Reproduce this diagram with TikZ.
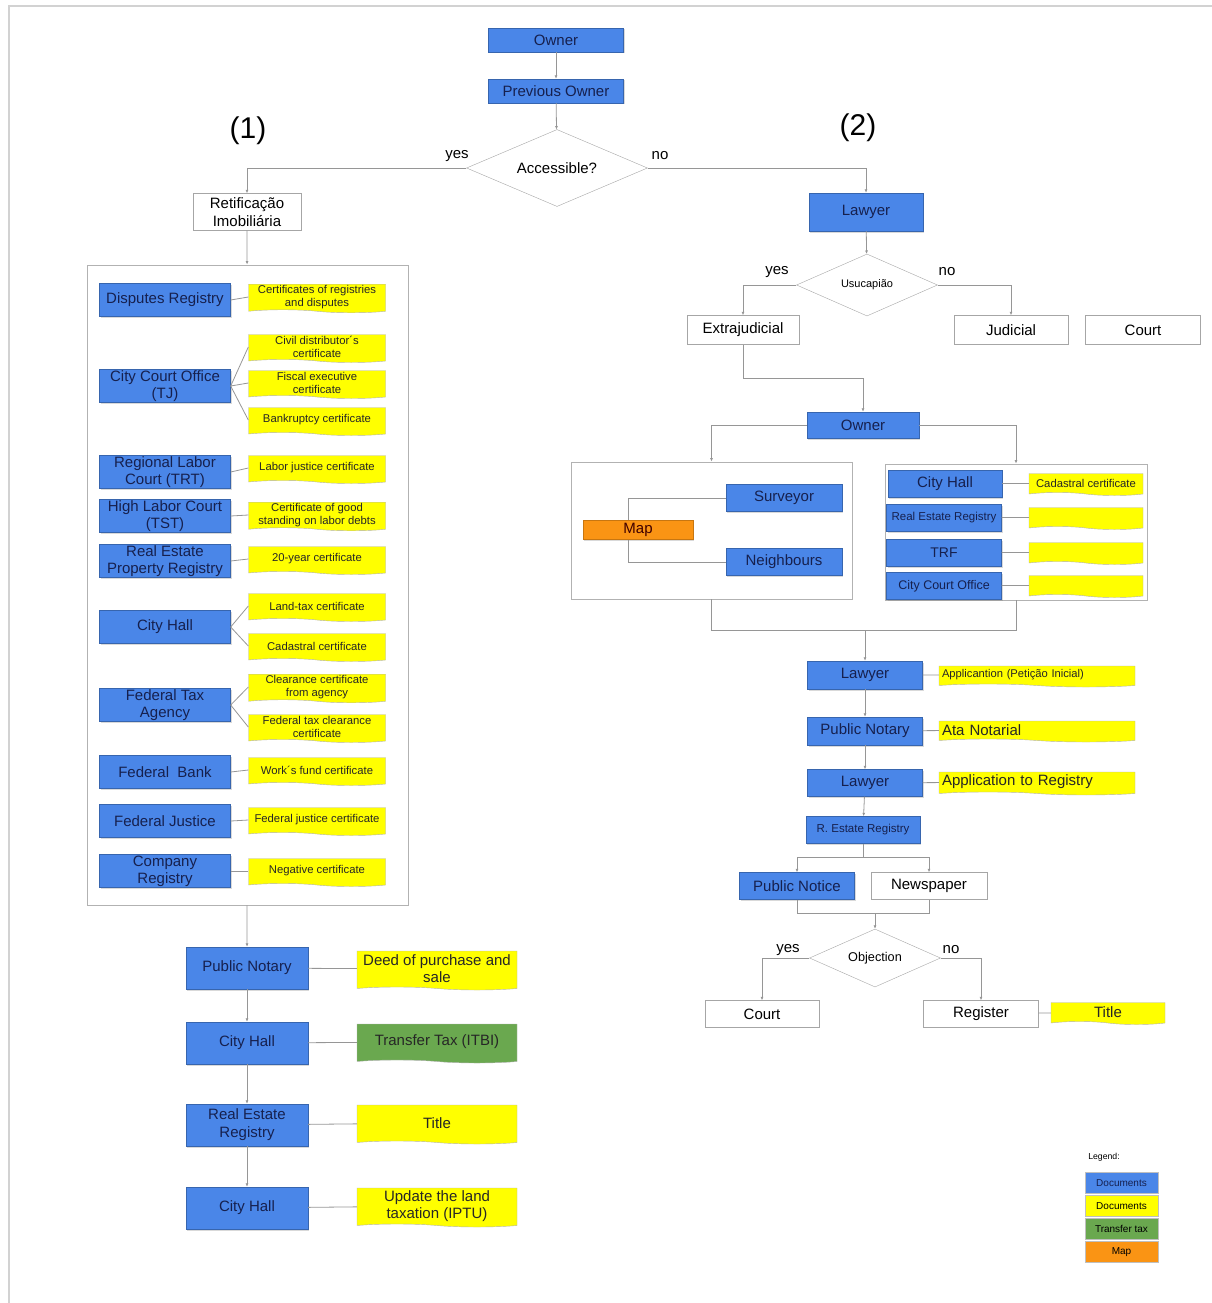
\documentclass[tikz,border=0pt]{standalone}
\usepackage{fontspec}
\setmainfont{Liberation Sans}
\usetikzlibrary{shapes.geometric,shapes.symbols,arrows.meta,shadows}
\definecolor{docblue}{RGB}{74,134,232}
\definecolor{noteyellow}{RGB}{255,255,0}
\definecolor{taxgreen}{RGB}{106,168,79}
\definecolor{maporange}{RGB}{250,148,20}
\definecolor{linegray}{RGB}{150,150,150}
\definecolor{doctext}{RGB}{22,32,78}
\newcommand{\fsz}[2]{\fontsize{#1}{#2}\selectfont}
\begin{document}
\begin{tikzpicture}
	[
	x=1pt, y=-1pt, font=\fsz{15}{17}, >={Latex[length=3.5pt,width=3pt]},
	%Stile
	doc/.style={draw=docblue!75!black, fill=docblue, text=doctext, inner sep=1pt, align=center,
		drop shadow={shadow xshift=1pt, shadow yshift=-1.5pt, opacity=0.3}},
	note/.style={tape, tape bend top=none, tape bend bottom=out and in, tape bend height=3pt,
		draw=gray!60, fill=noteyellow, text=black!85, inner sep=1pt, align=center},
	whitebox/.style={draw=gray!70, fill=white, inner sep=1pt, align=center},
	decision/.style={diamond, aspect=2.3, draw=gray!70, fill=white, inner sep=0pt, align=center},
	groupbox/.style={draw=gray!60, line width=0.8pt},
	line/.style={draw=linegray, line width=0.8pt},
	leftdoc/.style={doc, minimum width=131pt, minimum height=33pt, font=\fsz{15}{17}},
	leftnote/.style={note, minimum width=137pt, minimum height=28pt, font=\fsz{11.3}{13}},
	lowdoc/.style={doc, minimum width=122pt, minimum height=42pt, font=\fsz{15}{18}},
	lownote/.style={note, minimum width=160pt, minimum height=39pt, font=\fsz{15}{17}},
	rightdoc/.style={doc, minimum width=115pt, minimum height=27pt},
	rightnote/.style={note, minimum width=114pt, minimum height=22pt, font=\fsz{11.3}{13}},
	longnote/.style={note, text width=190pt, minimum height=21pt, align=left, inner sep=3pt},
	legendbox/.style={draw=gray!50, minimum width=73pt, minimum height=21pt, inner sep=0pt, font=\fsz{10}{11}}
	]
	\useasboundingbox (0,0) rectangle (1212,1303);
	%Rahmen
	\draw[gray!35, line width=2pt] (9,1303) -- (9,6) -- (1212,6);
	
	%Start
	\node[doc, minimum width=135pt, minimum height=24pt] (owner) at (556,40) {Owner};
	\node[doc, minimum width=135pt, minimum height=24pt] (prevowner) at (556,91) {Previous Owner};
	\node[decision, minimum width=181pt, minimum height=77pt] (access) at (557,168) {Accessible?};
	\node (yes1) at (457,156) {yes};
	\node (no1) at (660,156) {no};
	\node[font=\fsz{30}{34}] (lab1) at (248,131) {(1)};
	\node[font=\fsz{30}{34}] (lab2) at (858,128) {(2)};
	\draw[line,->] (owner) -- (prevowner);
	\draw[line,->] (prevowner) -- (access);
	
	%(1) Retificacao
	\node[whitebox, minimum width=108pt, minimum height=37pt, font=\fsz{15}{18}] (retif) at (247,212) {Retificação\\Imobiliária};
	\node[groupbox, minimum width=321pt, minimum height=640pt] (certs) at (247.5,585) {};
	\draw[line,->] (access.west) -| (retif.north);
	\draw[line,->] (retif) -- (certs);
	
	%Urkunden
	\node[leftdoc] (disputes) at (165,300) {Disputes Registry};
	\node[leftnote] (ndisputes) at (317,297) {Certificates of registries\\and disputes};
	\node[leftdoc] (cityct) at (165,386) {City Court Office\\(TJ)};
	\node[leftnote] (ncivil) at (317,347) {Civil distributor´s\\certificate};
	\node[leftnote] (nfiscal) at (317,383) {Fiscal executive\\certificate};
	\node[leftnote] (nbankr) at (317,420) {Bankruptcy certificate};
	\node[leftdoc] (trt) at (165,472) {Regional Labor\\Court (TRT)};
	\node[leftnote] (ntrt) at (317,468) {Labor justice certificate};
	\node[leftdoc] (tst) at (165,516) {High Labor Court\\(TST)};
	\node[leftnote] (ntst) at (317,515) {Certificate of good\\standing on labor debts};
	\node[leftdoc] (repr) at (165,561) {Real Estate\\Property Registry};
	\node[leftnote] (nrepr) at (317,559) {20-year certificate};
	\node[leftdoc] (cityhall1) at (165,627) {City Hall};
	\node[leftnote] (nland) at (317,606) {Land-tax certificate};
	\node[leftnote] (ncad1) at (317,646) {Cadastral certificate};
	\node[leftdoc] (fedtax) at (165,705) {Federal Tax\\Agency};
	\node[leftnote] (nclear) at (317,687) {Clearance certificate\\from agency};
	\node[leftnote] (nfedtax) at (317,727) {Federal tax clearance\\certificate};
	\node[leftdoc] (fedbank) at (165,772) {Federal~ Bank};
	\node[leftnote] (nfund) at (317,770) {Work´s fund certificate};
	\node[leftdoc] (fedjust) at (165,821) {Federal Justice};
	\node[leftnote] (nfedjust) at (317,820) {Federal justice certificate};
	\node[leftdoc] (company) at (165,871) {Company\\Registry};
	\node[leftnote] (nneg) at (317,871) {Negative certificate};
	\draw[line] (disputes.east) -- (ndisputes.west);
	\draw[line] (cityct.east) -- (ncivil.west);
	\draw[line] (cityct.east) -- (nfiscal.west);
	\draw[line] (cityct.east) -- (nbankr.west);
	\draw[line] (trt.east) -- (ntrt.west);
	\draw[line] (tst.east) -- (ntst.west);
	\draw[line] (repr.east) -- (nrepr.west);
	\draw[line] (cityhall1.east) -- (nland.west);
	\draw[line] (cityhall1.east) -- (ncad1.west);
	\draw[line] (fedtax.east) -- (nclear.west);
	\draw[line] (fedtax.east) -- (nfedtax.west);
	\draw[line] (fedbank.east) -- (nfund.west);
	\draw[line] (fedjust.east) -- (nfedjust.west);
	\draw[line] (company.east) -- (nneg.west);
	
	%Kauf
	\node[lowdoc] (notary1) at (247,968) {Public Notary};
	\node[lownote] (deed) at (437,969) {Deed of purchase and\\sale};
	\node[lowdoc] (cityhall2) at (247,1043) {City Hall};
	\node[lownote, fill=taxgreen] (itbi) at (437,1042) {Transfer Tax (ITBI)};
	\node[lowdoc] (registry1) at (247,1125) {Real Estate\\Registry};
	\node[lownote] (title1) at (437,1123) {Title};
	\node[lowdoc] (cityhall3) at (247,1208) {City Hall};
	\node[lownote] (iptu) at (437,1206) {Update the land\\taxation (IPTU)};
	\draw[line,->] (certs) -- (notary1);
	\draw[line,->] (notary1) -- (cityhall2);
	\draw[line,->] (cityhall2) -- (registry1);
	\draw[line,->] (registry1) -- (cityhall3);
	\draw[line] (notary1) -- (deed);
	\draw[line] (cityhall2) -- (itbi);
	\draw[line] (registry1) -- (title1);
	\draw[line] (cityhall3) -- (iptu);
	
	%(2) Usucapiao
	\node[doc, minimum width=114pt, minimum height=38pt] (lawyer1) at (866,212) {Lawyer};
	\node[decision, minimum width=141pt, minimum height=62pt, font=\fsz{11}{13}] (usucap) at (867,285) {Usucapião};
	\node (yes2) at (777,272) {yes};
	\node (no2) at (947,272) {no};
	\node[whitebox, minimum width=112pt, minimum height=29pt] (extra) at (743,330) {Extrajudicial};
	\node[whitebox, minimum width=114pt, minimum height=29pt] (judicial) at (1011,330) {Judicial};
	\node[whitebox, minimum width=115pt, minimum height=29pt] (court1) at (1143,330) {Court};
	\draw[line,->] (access.east) -| (lawyer1.north);
	\draw[line,->] (lawyer1) -- (usucap);
	\draw[line,->] (usucap.west) -| (extra.north);
	\draw[line,->] (usucap.east) -| (judicial.north);
	
	%Extrajudicial
	\node[doc, minimum width=112pt, minimum height=26pt] (owner2) at (863,425) {Owner};
	\node[groupbox, minimum width=281pt, minimum height=137pt] (mapgroup) at (711.5,530.5) {};
	\node[groupbox, minimum width=262pt, minimum height=136pt] (docgroup) at (1016,532) {};
	\draw[line,->] (extra.south) -- ++(0,34) -| (owner2.north);
	\draw[line,->] (owner2.west) -| (mapgroup.north);
	\draw[line,->] (owner2.east) -| (docgroup.north);
	
	%Karte
	\node[doc, minimum width=110pt, minimum height=19pt, fill=maporange, draw=maporange!80!black, text=black!75!red] (map) at (638,530) {Map};
	\node[rightdoc, minimum width=116pt] (surveyor) at (784,498) {Surveyor};
	\node[rightdoc, minimum width=116pt] (neighbours) at (784,562) {Neighbours};
	\draw[line] ([xshift=-10pt]map.north) |- (surveyor.west);
	\draw[line] ([xshift=-10pt]map.south) |- (neighbours.west);
	
	%Bescheinigungen
	\node[rightdoc, minimum width=114pt] (cityhall4) at (945,484) {City Hall};
	\node[rightnote] (ncad2) at (1086,483) {Cadastral certificate};
	\node[rightdoc, font=\fsz{11.5}{13}] (registry2) at (944,518) {Real Estate Registry};
	\node[rightnote] (nreg2) at (1086,517) {};
	\node[rightdoc, font=\fsz{14}{16}] (trf) at (944,553) {TRF};
	\node[rightnote] (ntrf) at (1086,552) {};
	\node[rightdoc, font=\fsz{12.5}{14}] (cityct2) at (944,586) {City Court Office};
	\node[rightnote] (ncityct2) at (1086,585) {};
	\draw[line] (cityhall4) -- (ncad2);
	\draw[line] (registry2) -- (nreg2);
	\draw[line] (trf) -- (ntrf);
	\draw[line] (cityct2) -- (ncityct2);
	
	%Antrag
	\node[rightdoc, minimum height=28pt] (lawyer2) at (865,675) {Lawyer};
	\node[longnote, font=\fsz{11.2}{13}] (petition) at (1037,675) {Applicantion (Petição Inicial)};
	\node[rightdoc, minimum height=28pt] (notary2) at (865,731) {Public Notary};
	\node[longnote] (ata) at (1037,730) {Ata Notarial};
	\node[rightdoc] (lawyer3) at (865,783) {Lawyer};
	\node[longnote] (appreg) at (1037,782) {Application to Registry};
	\node[rightdoc, minimum width=114pt, font=\fsz{11.5}{13}] (registry3) at (863,830) {R. Estate Registry};
	\draw[line] (mapgroup.south) -- ++(0,31) coordinate (join1) -| (docgroup.south);
	\draw[line,->] (join1 -| lawyer2) -- (lawyer2.north);
	\draw[line,->] (lawyer2) -- (notary2);
	\draw[line,->] (notary2) -- (lawyer3);
	\draw[line,->] (lawyer3) -- (registry3);
	\draw[line] (lawyer2) -- (petition);
	\draw[line] (notary2) -- (ata);
	\draw[line] (lawyer3) -- (appreg);
	
	%Bekanntmachung
	\node[rightdoc] (notice) at (797,886) {Public Notice};
	\node[whitebox, minimum width=116pt, minimum height=27pt] (newspaper) at (929,886) {Newspaper};
	\node[decision, minimum width=131pt, minimum height=58pt, font=\fsz{12.7}{14}] (objection) at (875,958) {Objection};
	\node (yes3) at (788,950) {yes};
	\node (no3) at (951,950) {no};
	\node[whitebox, minimum width=114pt, minimum height=27pt] (court2) at (762,1014) {Court};
	\node[whitebox, minimum width=115pt, minimum height=27pt] (register) at (981,1014) {Register};
	\node[rightnote, font=\fsz{15}{17}] (title2) at (1108,1012) {Title};
	\draw[line] (registry3.south) -- ++(0,14) coordinate (join2);
	\draw[line,->] (join2) -| (notice.north);
	\draw[line,->] (join2) -| (newspaper.north);
	\draw[line] (notice.south) -- ++(0,14) coordinate (join3) -| (newspaper.south);
	\draw[line,->] (join3 -| objection.north) -- (objection.north);
	\draw[line,->] (objection.west) -| (court2.north);
	\draw[line,->] (objection.east) -| (register.north);
	\draw[line] (register) -- (title2);
	
	%Legende
	\node[font=\fsz{8.7}{10}] (legend) at (1104,1157) {Legend:};
	\node[legendbox, fill=docblue, text=doctext] (leg1) at (1121.5,1183) {Documents};
	\node[legendbox, fill=noteyellow] (leg2) at (1121.5,1206) {Documents};
	\node[legendbox, fill=taxgreen] (leg3) at (1121.5,1229) {Transfer tax};
	\node[legendbox, fill=maporange] (leg4) at (1121.5,1252) {Map};
\end{tikzpicture}
\end{document}
